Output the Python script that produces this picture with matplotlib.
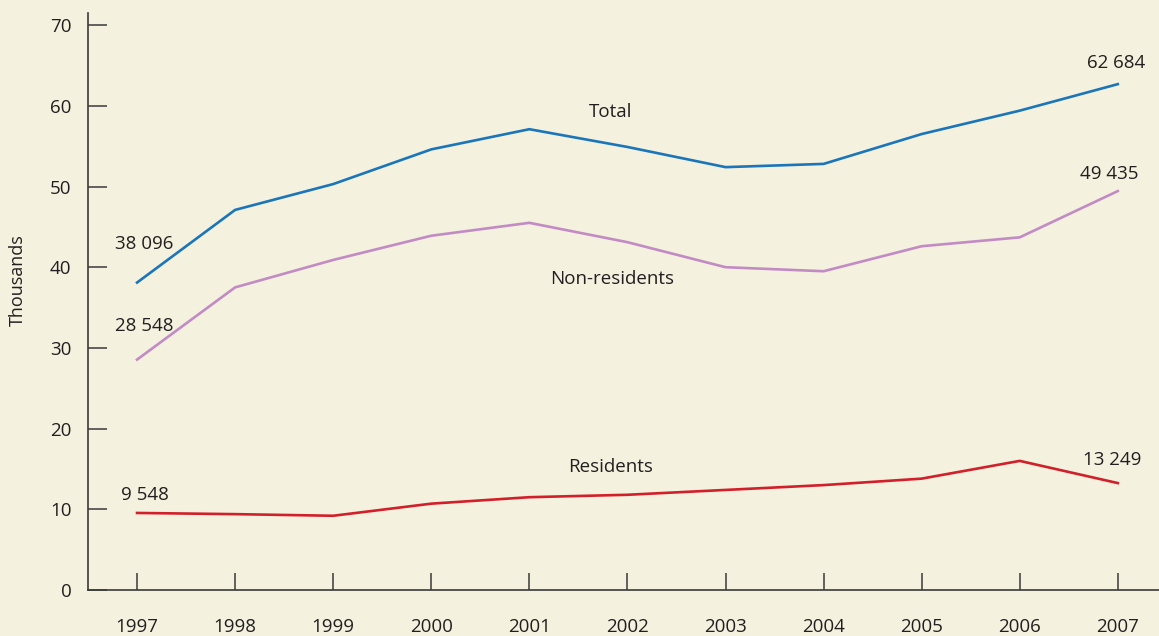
import matplotlib
matplotlib.use("Agg")
import matplotlib.pyplot as plt

years = [1997, 1998, 1999, 2000, 2001, 2002, 2003, 2004, 2005, 2006, 2007]
total = [38.096, 47.1, 50.3, 54.6, 57.1, 54.9, 52.4, 52.8, 56.5, 59.4, 62.684]
non_residents = [28.548, 37.5, 40.9, 43.9, 45.5, 43.1, 40.0, 39.5, 42.6, 43.7, 49.435]
residents = [9.548, 9.4, 9.2, 10.7, 11.5, 11.8, 12.4, 13.0, 13.8, 16.0, 13.249]
y_ticks = [0, 10, 20, 30, 40, 50, 60, 70]

BG = "#f4f1df"
C_TOTAL = "#1b75bb"
C_NON = "#c38bc4"
C_RES = "#d1202a"
TXT = "#231f20"
AX = "#3a3a3a"

plt.rcParams['font.family'] = ['Open Sans', 'DejaVu Sans']

fig = plt.figure(figsize=(11.59, 6.36), dpi=100, facecolor=BG)
ax = fig.add_axes([88/1159, 1 - 590/636, 1 - 88/1159, (590 - 13)/636])
ax.set_facecolor(BG)

ax.plot(years, total, color=C_TOTAL, lw=1.9, solid_joinstyle='miter')
ax.plot(years, non_residents, color=C_NON, lw=1.9, solid_joinstyle='miter')
ax.plot(years, residents, color=C_RES, lw=1.9, solid_joinstyle='miter')

ax.set_xlim(1996.5, 2007.42)
ax.set_ylim(0, 71.5)
ax.set_xticks(years)
ax.set_xticklabels([str(y) for y in years])
ax.set_yticks(y_ticks)
ax.set_yticklabels([str(v) for v in y_ticks])

for s in ['top', 'right']:
    ax.spines[s].set_visible(False)
for s in ['left', 'bottom']:
    ax.spines[s].set_color(AX)
    ax.spines[s].set_linewidth(1.2)

fs = 13.5
ax.tick_params(axis='y', direction='in', length=14, width=1.1, color=AX,
               pad=12, labelsize=fs, labelcolor=TXT)
ax.tick_params(axis='x', direction='in', length=12, width=1.1, color=AX,
               pad=20, labelsize=fs, labelcolor=TXT)

ax.set_ylabel("Thousands", fontsize=13, color=TXT)
ax.yaxis.set_label_coords(-0.057, 0.537)

def fmt(v):
    return f"{v*1000:,.0f}".replace(",", " ")

ax.text(1997.076, 42.9, fmt(total[0]), ha='center', va='center', fontsize=fs, color=TXT)
ax.text(1997.076, 32.7, fmt(non_residents[0]), ha='center', va='center', fontsize=fs, color=TXT)
ax.text(1997.076, 11.8, fmt(residents[0]), ha='center', va='center', fontsize=fs, color=TXT)
ax.text(2006.98, 65.3, fmt(total[-1]), ha='center', va='center', fontsize=fs, color=TXT)
ax.text(2006.91, 51.55, fmt(non_residents[-1]), ha='center', va='center', fontsize=fs, color=TXT)
ax.text(2006.94, 16.1, fmt(residents[-1]), ha='center', va='center', fontsize=fs, color=TXT)

ax.text(2001.83, 59.2, "Total", ha='center', va='center', fontsize=fs, color=TXT)
ax.text(2001.84, 38.5, "Non-residents", ha='center', va='center', fontsize=fs, color=TXT)
ax.text(2001.83, 15.25, "Residents", ha='center', va='center', fontsize=fs, color=TXT)

fig.savefig("out.png", dpi=100, facecolor=BG)
